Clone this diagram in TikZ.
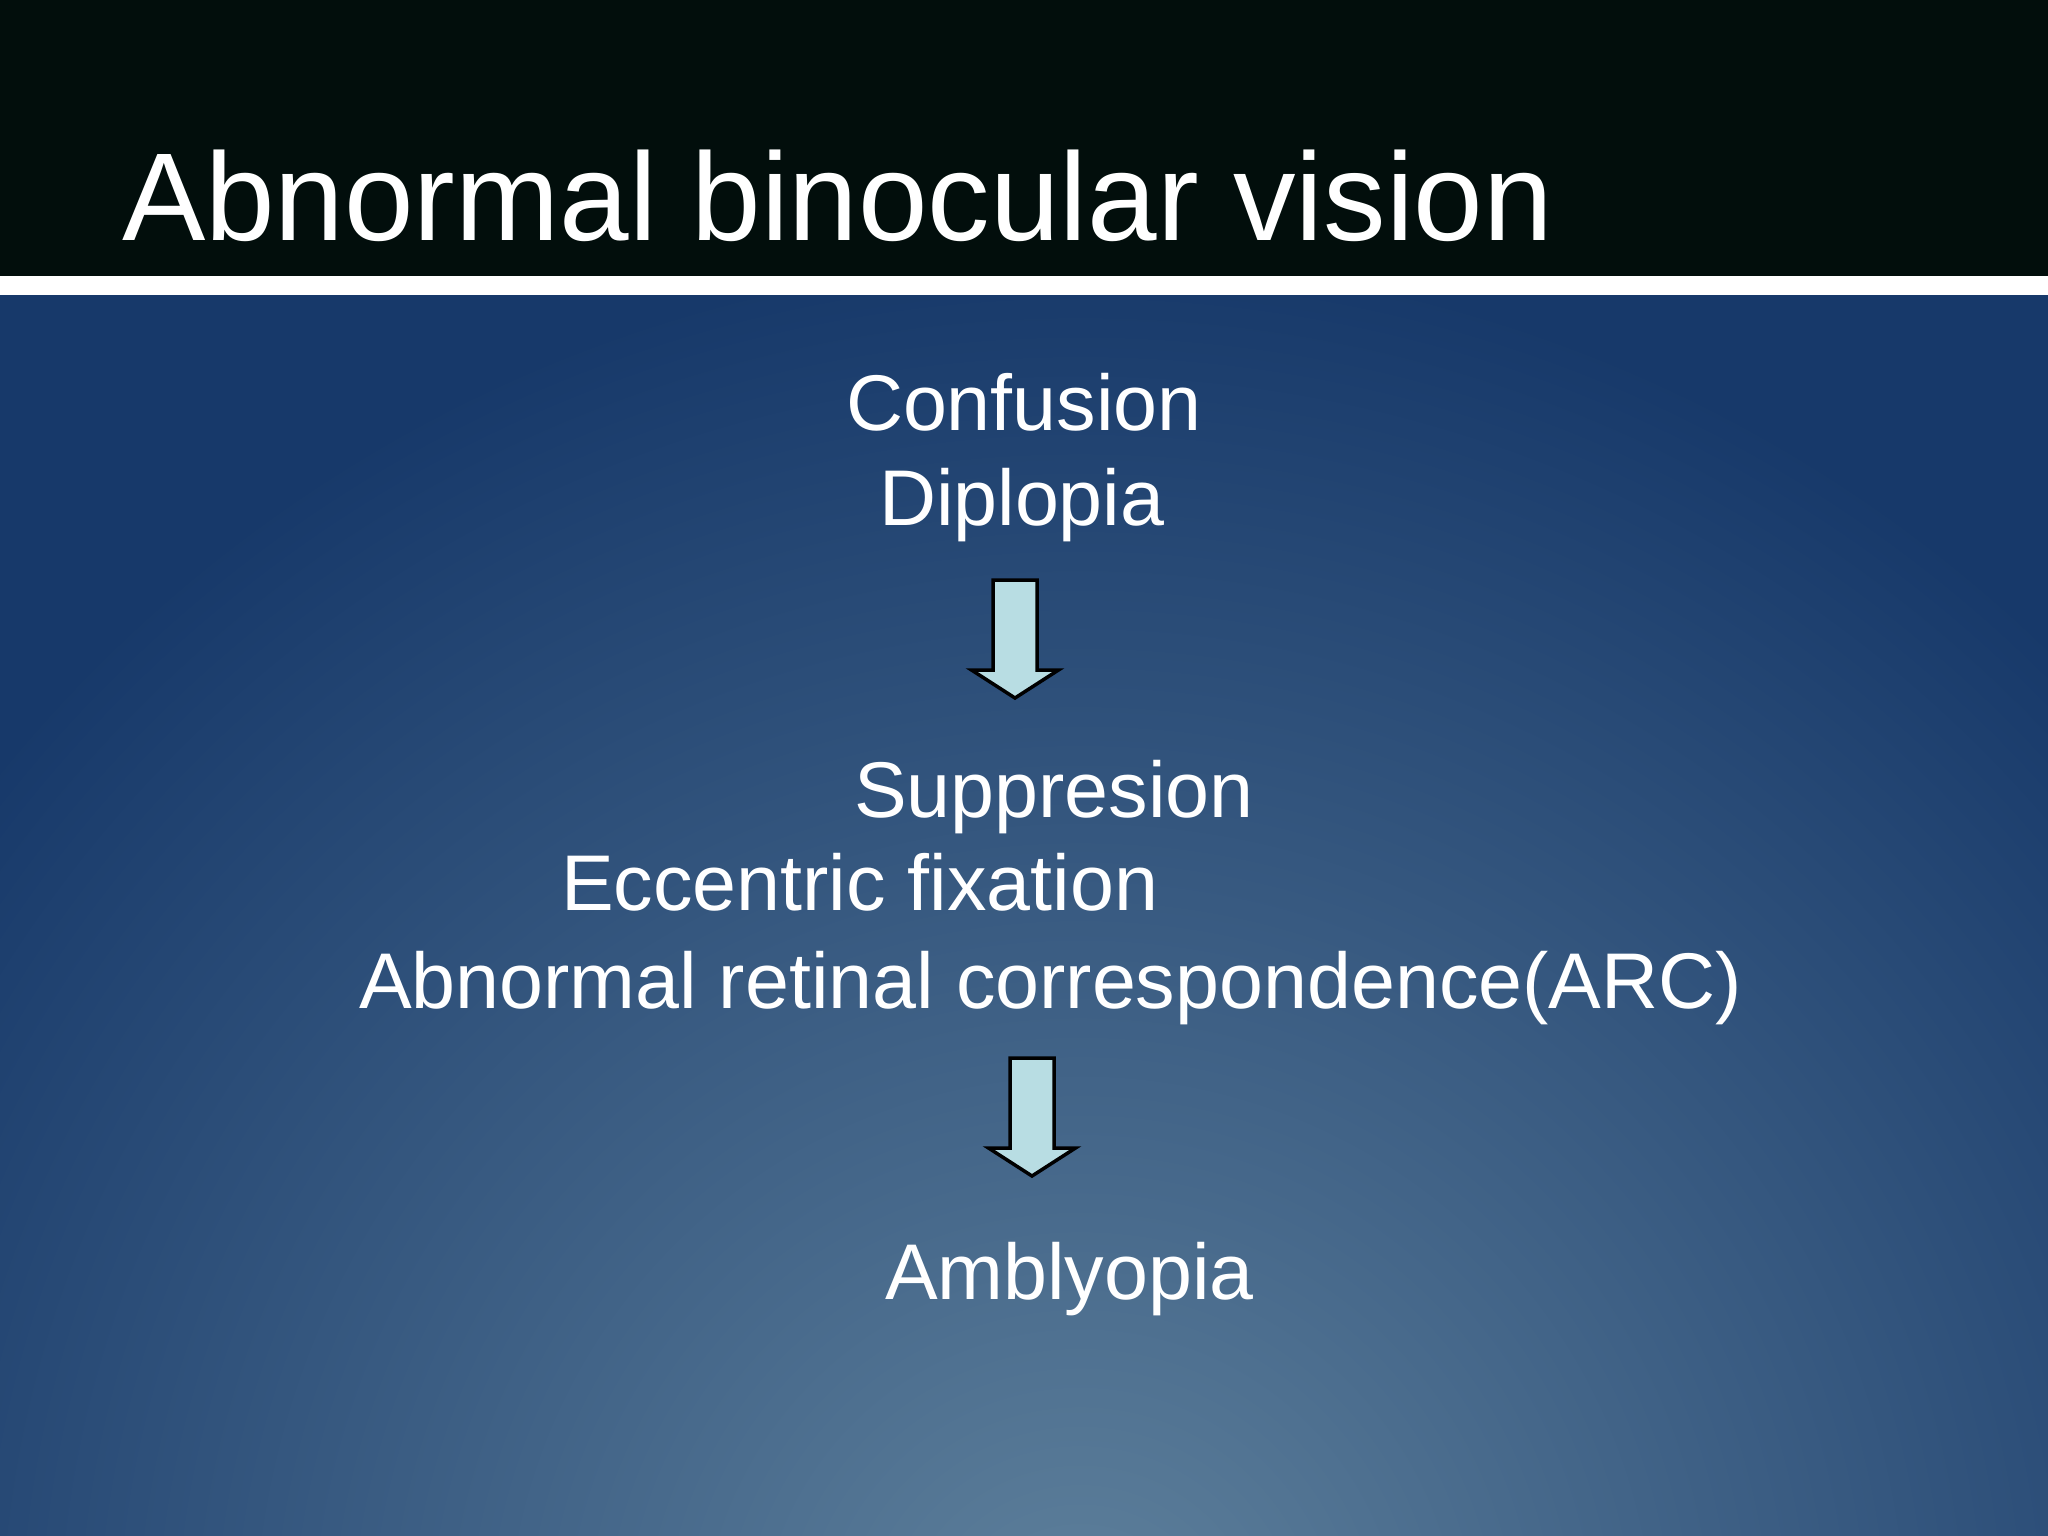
\documentclass[tikz,border=0pt]{standalone}
\usepackage{fontspec}
\setmainfont{Liberation Sans}

\definecolor{barblack}{HTML}{020E0C}
\definecolor{slateblue}{HTML}{17396A}
\definecolor{glowblue}{HTML}{5F819C}
\definecolor{arrowcyan}{HTML}{B8DDE3}

\tikzset{
  heading/.style={anchor=base west, inner sep=0pt, outer sep=0pt, text=white, font=\fontsize{125}{150}\selectfont},
  item/.style={anchor=base west, inner sep=0pt, outer sep=0pt, text=white, font=\fontsize{79}{95}\selectfont},
  downblock/.pic={
    \draw[fill=arrowcyan, draw=black, line width=3.5pt, line join=miter]
      (-22,0) -- (22,0) -- (22,90) -- (43.5,90) -- (0,118) -- (-43.5,90) -- (-22,90) -- cycle;
  }
}

\begin{document}
\begin{tikzpicture}[x=1pt, y=-1pt]
\useasboundingbox (0,0) rectangle (2048,1536);
% slide background
\fill[barblack] (0,0) rectangle (2048,276);
\fill[white] (0,276) rectangle (2048,295);
\fill[slateblue] (0,295) rectangle (2048,1536);
\begin{scope}
  \clip (0,295) rectangle (2048,1536);
  \shade[inner color=glowblue, outer color=slateblue] (1080,1650) circle (1400);
\end{scope}

\node[heading] (title) at (122,240) {Abnormal binocular vision};

\node[item] (conf) at (846,430) {Confusion};
\node[item] (dipl) at (879,525) {Diplopia};
\pic at (1015,580) {downblock};
\node[item] (supp) at (854,817) {Suppresion};
\node[item] (ecc) at (561,910) {Eccentric fixation};
\node[item] (arc) at (359,1008) {Abnormal retinal correspondence(ARC)};
\pic at (1032,1058) {downblock};
\node[item] (ambl) at (885,1299) {Amblyopia};
\end{tikzpicture}
\end{document}
